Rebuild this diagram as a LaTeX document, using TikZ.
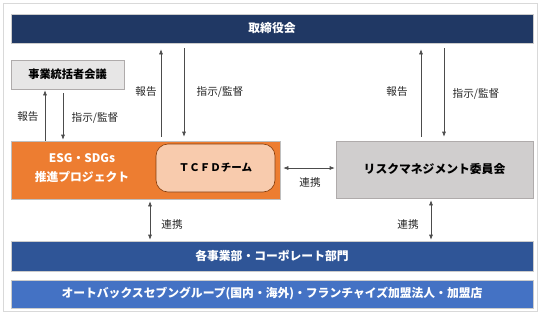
\documentclass[tikz,border=0pt]{standalone}
\usepackage{fontspec}
\setmainfont{Noto Sans CJK JP}
\usepackage{xcolor}
\usetikzlibrary{arrows.meta}

\definecolor{navy}{HTML}{203864}
\definecolor{midblue}{HTML}{2F5597}
\definecolor{lightblue}{HTML}{4472C4}
\definecolor{esgorange}{HTML}{ED7D31}
\definecolor{peach}{HTML}{F8CBAD}
\definecolor{brownline}{HTML}{843C0C}
\definecolor{riskgray}{HTML}{D0CECE}
\definecolor{boxgray}{HTML}{AFABAB}
\definecolor{palegray}{HTML}{E7E6E6}

\begin{document}
\begin{tikzpicture}[x=1pt, y=-1pt, line width=0.6pt,
  bar/.style={rectangle, draw=gray!40, text=white, font=\fontsize{11.8}{13}\selectfont\bfseries,
    minimum width=522pt, inner sep=0pt},
  lbl/.style={font=\fontsize{10.6}{12}\selectfont, text=black!85, inner sep=1pt},
  link/.style={draw=black!70, -{Latex[length=5pt,width=4pt]}, shorten >=1pt}]
\useasboundingbox (0,0) rectangle (542,314);

% Frame
\draw[gray!30, line width=1pt] (3,3) rectangle (537,311);

% Bars
\node[bar, fill=navy, minimum height=29pt] (board) at (272,28.5) {取締役会};
\node[bar, fill=midblue, minimum height=30pt] (depts) at (272,256) {各事業部・コーポレート部門};
\node[bar, fill=lightblue, minimum height=28pt] (group) at (272,294)
  {オートバックスセブングループ(国内・海外)・フランチャイズ加盟法人・加盟店};

% Boxes
\node[
    rectangle,
    draw=boxgray,
    fill=palegray,
    minimum width=113pt,
    minimum height=29pt,
    font=\fontsize{11.2}{13}\selectfont\bfseries
] (council) at (67.5,74.5) {事業統括者会議};

\node[
    rectangle,
    draw=gray!50,
    fill=esgorange,
    minimum width=269pt,
    minimum height=58pt
] (esg) at (145.5,170) {};
\node[text=white, font=\fontsize{11.8}{19}\selectfont\bfseries, align=center] (esgtext) at (82,168.5)
  {ESG・SDGs\\推進プロジェクト};

% TCFD team inside project
\node[
    rectangle,
    rounded corners=12pt,
    draw=brownline,
    fill=peach,
    minimum width=119pt,
    minimum height=48pt,
    font=\fontsize{10.5}{13}\selectfont\bfseries
] (tcfd) at (215.5,168) {ＴＣＦＤチーム};

\node[
    rectangle,
    draw=boxgray,
    fill=riskgray,
    minimum width=197pt,
    minimum height=57pt,
    font=\fontsize{11.8}{13}\selectfont\bfseries
] (risk) at (434.5,169.5) {リスクマネジメント委員会};

% Reporting lines
\draw[link] (esg.north -| 45,0) -- (council.south -| 45,0);
\draw[link] (council.south -| 63,0) ++(0,4) -- (esg.north -| 63,0);
\draw[link, shorten <=4pt] (esg.north -| 161,0) -- ([yshift=-5pt]board.south -| 161,0);
\draw[link, shorten >=4pt] ([yshift=-5pt]board.south -| 184,0) -- (esg.north -| 184,0);
\draw[link, shorten <=4pt] (risk.north -| 421,0) -- ([yshift=-5pt]board.south -| 421,0);
\draw[link, shorten >=4pt] ([yshift=-5pt]board.south -| 444,0) -- (risk.north -| 444,0);

% Cooperation
\draw[link, {Latex[length=5pt,width=4pt]}-{Latex[length=5pt,width=4pt]}, shorten <=3pt, shorten >=1pt]
  (esg.east) ++(0,-2) coordinate (c1) (c1) -- (c1 -| risk.west);
\draw[link, {Latex[length=5pt,width=4pt]}-{Latex[length=5pt,width=4pt]}, shorten <=2pt]
  (esg.south -| 150,0) -- (depts.north -| 150,0);
\draw[link, {Latex[length=5pt,width=4pt]}-{Latex[length=5pt,width=4pt]}, shorten <=2pt]
  (risk.south -| 431,0) -- (depts.north -| 431,0);

% Labels
\node[lbl] (rep1) at (28,117) {報告};
\node[lbl] (ins1) at (95,118) {指示/監督};
\node[lbl] (rep2) at (146,92) {報告};
\node[lbl] (ins2) at (220,92) {指示/監督};
\node[lbl] (rep3) at (397,92) {報告};
\node[lbl] (ins3) at (476,94) {指示/監督};
\node[lbl] (co1) at (310,182) {連携};
\node[lbl] (co2) at (172,224) {連携};
\node[lbl] (co3) at (408,224) {連携};
\end{tikzpicture}
\end{document}
